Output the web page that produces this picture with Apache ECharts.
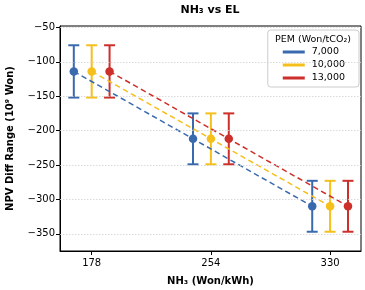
<!DOCTYPE html>
<html>
<head>
<meta charset="utf-8">
<script src="https://cdn.jsdelivr.net/npm/echarts@6/dist/echarts.min.js"></script>
<style>
  html, body { margin: 0; padding: 0; background: #fff; }
  #chart { width: 365px; height: 290px; }
</style>
</head>
<body>
<div id="chart"></div>
<script>
// NH3 price levels (Won/kWh)
const nh3Prices = [178, 254, 330];
const xTicks = [178, 254, 330];
const yTicks = [-350, -300, -250, -200, -150, -100, -50];

// PEM carbon price groups
const pemNames = ['7,000', '10,000', '13,000'];
const pemColors = ['#3A6AAE', '#F5BF1C', '#CD2F2A'];
const pemShift = [-11.4, 0, 11.4];

// mean NPV diff and error range (10^9 Won)
const mean7000 = [-114, -212, -310];
const mean10000 = [-114, -212, -310];
const mean13000 = [-114, -212, -310];
const low7000 = [-152, -249, -347];
const low10000 = [-152, -249, -347];
const low13000 = [-152, -249, -347];
const high7000 = [-76, -175, -273];
const high10000 = [-76, -175, -273];
const high13000 = [-76, -175, -273];

const means = [mean7000, mean10000, mean13000];
const lows = [low7000, low10000, low13000];
const highs = [high7000, high10000, high13000];

const FONT = 'DejaVu Sans';
const minus = v => String(v).replace('-', '\u2212');

const series = [];
pemNames.forEach((name, i) => {
  const pts = nh3Prices.map((x, j) => [x + pemShift[i], means[i][j]]);
  series.push({
    name: name,
    type: 'line',
    data: pts,
    color: pemColors[i],
    symbol: 'circle',
    symbolSize: 8.5,
    z: 4,
    lineStyle: { width: 1.5, type: [5.5, 3.5], color: pemColors[i] },
    itemStyle: { color: pemColors[i] }
  });
  series.push({
    name: name,
    type: 'custom',
    z: 3,
    data: nh3Prices.map((x, j) => [x + pemShift[i], lows[i][j], highs[i][j]]),
    renderItem: function (params, api) {
      const lo = api.coord([api.value(0), api.value(1)]);
      const hi = api.coord([api.value(0), api.value(2)]);
      const cap = 5.5;
      const style = { stroke: pemColors[i], lineWidth: 2 };
      return {
        type: 'group',
        children: [
          { type: 'line', shape: { x1: lo[0], y1: lo[1], x2: hi[0], y2: hi[1] }, style: style },
          { type: 'line', shape: { x1: lo[0] - cap, y1: lo[1], x2: lo[0] + cap, y2: lo[1] }, style: style },
          { type: 'line', shape: { x1: hi[0] - cap, y1: hi[1], x2: hi[0] + cap, y2: hi[1] }, style: style }
        ]
      };
    }
  });
});

// dotted horizontal grid lines at the y ticks
series.push({
  type: 'line',
  data: [],
  silent: true,
  markLine: {
    silent: true,
    symbol: 'none',
    label: { show: false },
    lineStyle: { color: '#d0d0d0', type: [1.5, 1.5], width: 0.8 },
    data: yTicks.map(v => ({ yAxis: v }))
  },
  z: 1
});

const chart = echarts.init(document.getElementById('chart'));
chart.setOption({
  animation: false,
  backgroundColor: '#fff',
  title: [
    {
      text: 'NH\u2083 vs EL',
      left: 210, top: 5, padding: 0, textAlign: 'center',
      textStyle: { fontFamily: FONT, fontSize: 11, fontWeight: 'bold', color: '#000' }
    },
    {
      text: 'PEM (Won/tCO\u2082)',
      left: 313, top: 35, padding: 0, textAlign: 'center', z: 10,
      textStyle: { fontFamily: FONT, fontSize: 9.5, fontWeight: 'normal', color: '#000' }
    }
  ],
  legend: {
    data: pemNames,
    orient: 'vertical',
    right: 6, top: 30,
    padding: [17, 14, 4, 15],
    itemGap: 3,
    itemWidth: 22, itemHeight: 3,
    icon: 'rect',
    backgroundColor: '#fff',
    borderColor: '#cccccc', borderWidth: 1, borderRadius: 3,
    textStyle: { fontFamily: FONT, fontSize: 9.5, color: '#000', padding: [0, 0, 0, 2] }
  },
  grid: {
    left: 60, right: 4, top: 26, bottom: 39,
    outerBoundsMode: 'none',
    containLabel: false,
    show: true, borderColor: '#000', borderWidth: 1, backgroundColor: 'transparent'
  },
  xAxis: {
    type: 'value',
    min: 157.8, max: 349.7,
    name: 'NH\u2083 (Won/kWh)',
    nameLocation: 'middle', nameGap: 25,
    nameTextStyle: { fontFamily: FONT, fontSize: 10, fontWeight: 'bold', color: '#000' },
    axisLine: { show: true, onZero: false, lineStyle: { color: '#000', width: 1 } },
    axisTick: { show: true, customValues: xTicks, length: 4, lineStyle: { color: '#000' } },
    axisLabel: { customValues: xTicks, margin: 7, fontFamily: FONT, fontSize: 10, color: '#000' },
    splitLine: { show: false }
  },
  yAxis: {
    type: 'value',
    min: -375, max: -48,
    name: 'NPV Diff Range (10\u2079 Won)',
    nameLocation: 'middle', nameGap: 45,
    nameTextStyle: { fontFamily: FONT, fontSize: 10, fontWeight: 'bold', color: '#000' },
    axisLine: { show: true, onZero: false, lineStyle: { color: '#000', width: 1 } },
    axisTick: { show: true, customValues: yTicks, length: 4, lineStyle: { color: '#000' } },
    axisLabel: { customValues: yTicks, margin: 5, fontFamily: FONT, fontSize: 10, color: '#000', formatter: minus },
    splitLine: { show: false }
  },
  series: series
});
</script>
</body>
</html>
